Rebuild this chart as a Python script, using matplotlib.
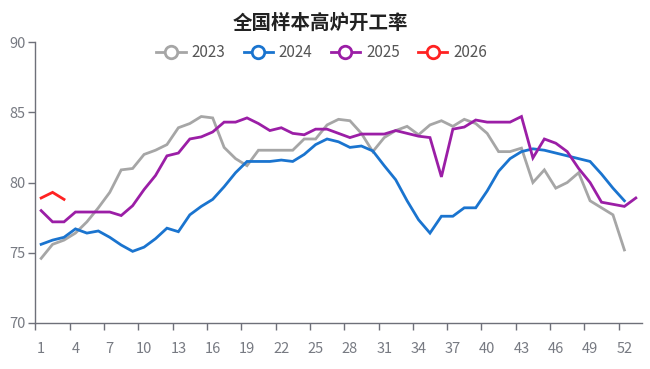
import matplotlib
matplotlib.use("Agg")
import matplotlib.pyplot as plt
from matplotlib.lines import Line2D

plt.rcParams['font.family'] = ['Noto Sans CJK SC', 'DejaVu Sans']

title = "全国样本高炉开工率"
weeks = list(range(1, 54))
tick_labels = [str(w) for w in range(1, 54, 3)]

s2023 = [74.6, 75.6, 75.9, 76.4, 77.2, 78.2, 79.3, 80.9, 81.0, 82.0,
         82.3, 82.7, 83.9, 84.2, 84.7, 84.6, 82.5, 81.7, 81.2, 82.3,
         82.3, 82.3, 82.3, 83.1, 83.1, 84.1, 84.5, 84.4, 83.5, 82.2,
         83.2, 83.7, 84.0, 83.4, 84.1, 84.4, 84.0, 84.5, 84.2, 83.5,
         82.2, 82.2, 82.45, 80.0, 80.9, 79.6, 80.0, 80.7, 78.7, 78.2,
         77.7, 75.2]
s2024 = [75.6, 75.9, 76.1, 76.7, 76.4, 76.55, 76.1, 75.55, 75.1, 75.4,
         76.0, 76.75, 76.5, 77.7, 78.3, 78.8, 79.7, 80.7, 81.5, 81.5,
         81.5, 81.6, 81.5, 82.0, 82.7, 83.1, 82.9, 82.5, 82.6, 82.25,
         81.2, 80.2, 78.7, 77.35, 76.4, 77.6, 77.6, 78.2, 78.2, 79.4,
         80.8, 81.7, 82.2, 82.4, 82.3, 82.1, 81.9, 81.7, 81.5, 80.6,
         79.6, 78.7]
s2025 = [78.0, 77.2, 77.2, 77.9, 77.9, 77.9, 77.9, 77.65, 78.35, 79.5,
         80.5, 81.9, 82.1, 83.1, 83.25, 83.6, 84.3, 84.3, 84.6, 84.2,
         83.7, 83.9, 83.5, 83.4, 83.8, 83.8, 83.5, 83.2, 83.45, 83.45,
         83.45, 83.7, 83.5, 83.3, 83.2, 80.4, 83.8, 83.95, 84.45, 84.3,
         84.3, 84.3, 84.7, 81.75, 83.1, 82.8, 82.2, 81.0, 80.0, 78.6,
         78.45, 78.3, 78.9]
s2026 = [78.9, 79.3, 78.8]

series = [("2023", s2023, "#a6a6a6"),
          ("2024", s2024, "#1a74cf"),
          ("2025", s2025, "#9b1ea6"),
          ("2026", s2026, "#ff2222")]

fig = plt.figure(figsize=(6.5, 3.69), dpi=100)
ax = fig.add_axes([0.0545, 0.1247, 0.9325, 0.7613])

for name, vals, col in series:
    ax.plot(weeks[:len(vals)], vals, color=col, lw=2.0, solid_joinstyle='miter')

ax.set_xlim(0.5, 53.5)
ax.set_ylim(70, 90)
ax.set_yticks([70, 75, 80, 85, 90])
ax.set_xticks(list(range(1, 54, 3)))
ax.set_xticklabels(tick_labels)
ax.set_xticks([0.5 + 3 * i for i in range(18)], minor=True)
ax.tick_params(axis='x', which='major', length=0, pad=14, labelsize=10.5, colors='#777a82')
ax.tick_params(axis='x', which='minor', length=5, width=1, color='#6e7079')
ax.tick_params(axis='y', which='major', length=5, width=1, color='#6e7079', labelsize=10.5, labelcolor='#777a82', pad=2)

for sp in ['top', 'right']:
    ax.spines[sp].set_visible(False)
for sp in ['left', 'bottom']:
    ax.spines[sp].set_color('#6e7079')
    ax.spines[sp].set_linewidth(1)

fig.text(0.493, 0.938, title, ha='center', va='center', fontsize=14, fontweight='bold', color='#222222')

handles = [Line2D([0], [0], color=col, lw=2, marker='o', markersize=9,
                  markerfacecolor='white', markeredgecolor=col, markeredgewidth=2)
           for _, _, col in series]
labels = [name for name, _, _ in series]
fig.legend(handles, labels, loc='center', bbox_to_anchor=(0.495, 0.858), ncol=4,
           frameon=False, fontsize=11, handlelength=1.9, handletextpad=0.4,
           columnspacing=1.2, labelcolor='#555555')

fig.savefig("out.png", dpi=100)
